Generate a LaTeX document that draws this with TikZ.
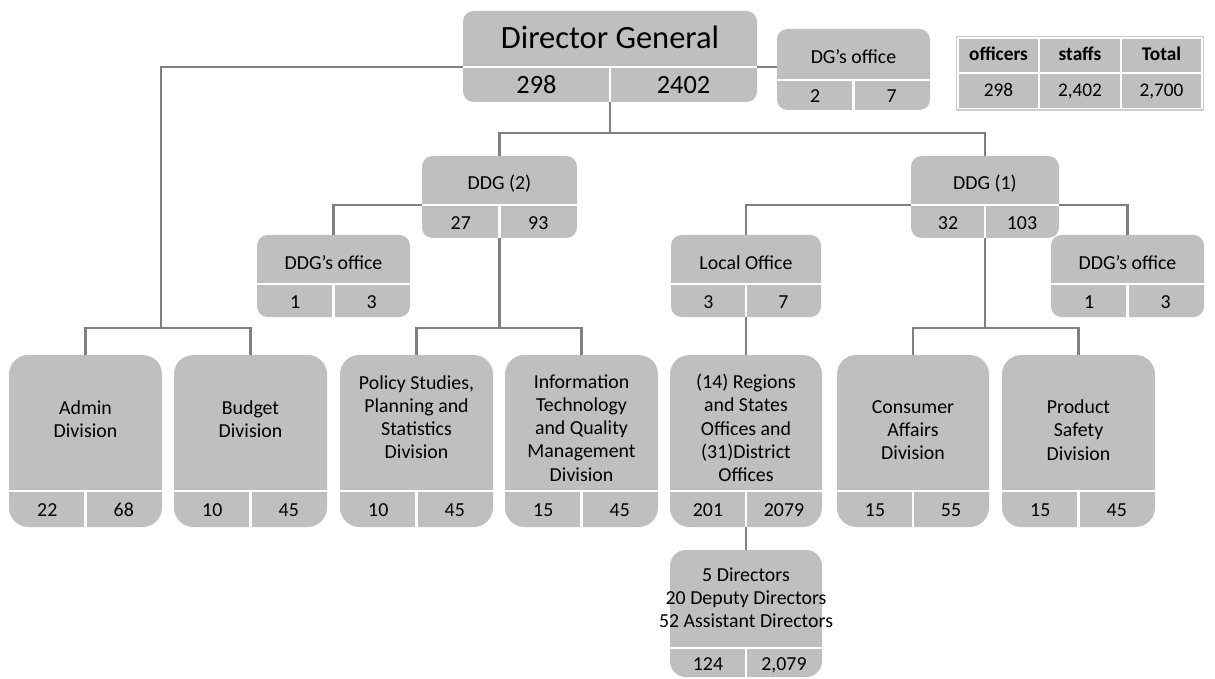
\documentclass[tikz,border=0pt]{standalone}
\usepackage{fontspec}
\setmainfont{Carlito}
\usetikzlibrary{fit}
\definecolor{boxgray}{RGB}{191,191,191}
\definecolor{linkgray}{RGB}{128,128,128}

\begin{document}
\begin{tikzpicture}[x=0.02cm, y=-0.02cm,
    unitbox/.style={fill=boxgray, inner sep=0pt},
    divline/.style={white, line width=1.2pt},
    link/.style={linkgray, line width=1.5pt},
    unittext/.style={font=\fontsize{11.3}{13.2}\selectfont, align=center, inner sep=0pt},
    unitnum/.style={unittext, text height=7.6pt, text depth=1.4pt},
    tabcell/.style={fill=boxgray, draw=white, line width=1.4pt, minimum width=1.63cm, minimum height=0.71cm, inner sep=0pt, text height=7.4pt, text depth=1.6pt, font=\fontsize{11}{13}\selectfont},
    tabhead/.style={tabcell, font=\fontsize{11}{13}\selectfont\bfseries}]

    \useasboundingbox (0,0) rectangle (1215,679);

    \path (463,11) coordinate (dg-nw) (757,102) coordinate (dg-se);
    \node[unitbox, rounded corners=6pt, fit=(dg-nw)(dg-se)] (dg) {};
    \path (463,67) coordinate (dg-l) (610,67) coordinate (dg-m) (757,67) coordinate (dg-r);
    \draw[divline] (dg-l) -- (dg-r) (dg-m) -- (dg-m |- dg.south);
    \node[unittext, font=\fontsize{18.5}{22}\selectfont] (dg-t) at (610,37) {Director General};
    \node[unitnum, font=\fontsize{15}{18}\selectfont, text height=10pt, text depth=2pt] (dg-a) at (536.5,86) {298};
    \node[unitnum, font=\fontsize{15}{18}\selectfont, text height=10pt, text depth=2pt] (dg-b) at (683.5,86) {2402};

    \foreach \nm/\xa/\ya/\xb/\yb/\hh/\rr/\ty/\tx/\na/\nb in {
        dgoff/777/29/930/110/30/6pt/57/{DG’s office}/2/7,
        ddgb/422/156/577/238/33/6pt/184/{DDG (2)}/27/93,
        ddga/911/156/1059/238/33/6pt/184/{DDG (1)}/32/103,
        offb/257/235/410/317/33/6pt/263/{DDG’s office}/1/3,
        local/671/235/821/317/33/6pt/263/{Local Office}/3/7,
        offa/1051/235/1204/317/33/6pt/263/{DDG’s office}/1/3,
        admin/9/355/162/527/36/11pt/419/{Admin\\Division}/22/68,
        budget/174/355/327/527/36/11pt/419/{Budget\\Division}/10/45,
        policy/340/355/493/527/36/11pt/417/{Policy Studies,\\Planning and\\Statistics\\Division}/10/45,
        info/505/355/658/527/36/11pt/428/{Information\\Technology\\and Quality\\Management\\Division}/15/45,
        regions/670/355/822/527/36/11pt/428/{(14) Regions\\and States\\Offices and\\(31)District\\Offices}/201/2079,
        consumer/837/355/989/527/36/11pt/430/{Consumer\\Affairs\\Division}/15/55,
        product/1002/355/1155/527/36/11pt/430/{Product\\Safety\\Division}/15/45,
        directors/670/550/822/677/29/9pt/598/{5 Directors\\20 Deputy Directors\\52 Assistant Directors}/124/{2,079}}
    {
        \path (\xa,\ya) coordinate (\nm-nw) (\xb,\yb) coordinate (\nm-se);
        \node[unitbox, rounded corners=\rr, fit=(\nm-nw)(\nm-se)] (\nm) {};
        \path ({\xa},{\yb-\hh}) coordinate (\nm-l) ({(\xa+\xb)/2},{\yb-\hh}) coordinate (\nm-m) ({\xb},{\yb-\hh}) coordinate (\nm-r);
        \draw[divline] (\nm-l) -- (\nm-r) (\nm-m) -- (\nm-m |- \nm.south);
        \node[unittext] (\nm-t) at ({(\xa+\xb)/2},\ty) {\tx};
        \node[unitnum] (\nm-a) at ({(3*\xa+\xb)/4},{\yb-\hh/2+2.5}) {\na};
        \node[unitnum] (\nm-b) at ({(\xa+3*\xb)/4},{\yb-\hh/2+2.5}) {\nb};
    }

    \foreach \cx/\hd/\vl [count=\i] in {998.5/officers/298, 1080/staffs/{2,402}, 1161.5/Total/{2,700}} {
        \node[tabhead] (th\i) at (\cx,55.5) {\hd};
        \node[tabcell] (tv\i) at (\cx,91) {\vl};
    }
    \node[fit=(th1)(tv3), draw=gray!40, line width=0.6pt, inner sep=0pt] (table) {};

    \coordinate (lbus) at (161,328);
    \coordinate (mbus) at (610,133);
    \coordinate (pbus) at (499.5,328);
    \coordinate (cbus) at (985,328);

    \draw[link] (dg-l) -| (lbus);
    \draw[link] (admin.north) |- (lbus) -| (budget.north);
    \draw[link] (dg-r) -- (dg-r -| dgoff.west);
    \draw[link] (dg.south) -- (mbus);
    \draw[link] (ddgb.north) |- (mbus) -| (ddga.north);
    \draw[link] (ddgb-l) -| (offb.north);
    \draw[link] (ddgb.south) -- (pbus);
    \draw[link] (policy.north) |- (pbus) -| (info.north);
    \draw[link] (ddga-l) -| (local.north);
    \draw[link] (ddga-r) -| (offa.north);
    \draw[link] (ddga.south) -- (cbus);
    \draw[link] (consumer.north) |- (cbus) -| (product.north);
    \draw[link] (local.south) -- (regions.north);
    \draw[link] (regions.south) -- (directors.north);
\end{tikzpicture}
\end{document}
